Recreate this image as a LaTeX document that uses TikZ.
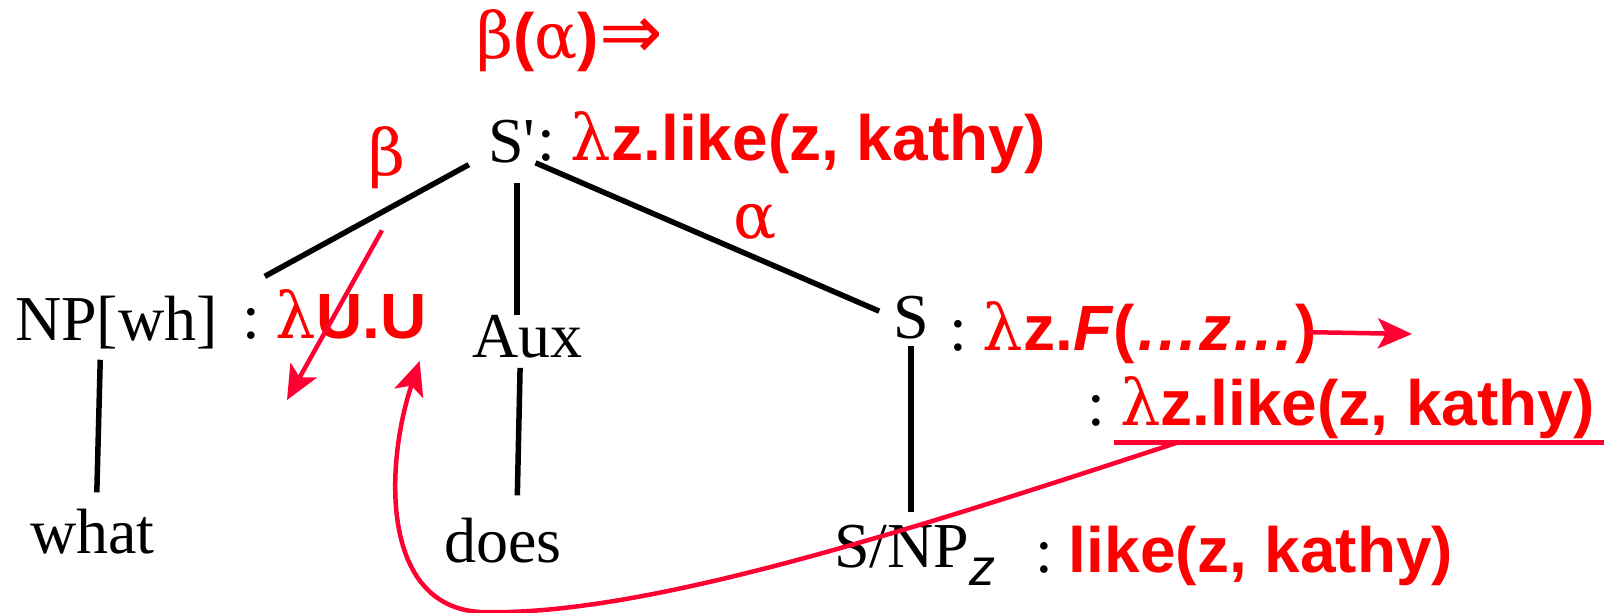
\documentclass[tikz,border=0pt]{standalone}
\usepackage{fontspec}
\setmainfont{Liberation Serif}
\newfontfamily\semf{Liberation Sans}
\newfontfamily\grkf{DejaVu Serif}
\newfontfamily\arrf{DejaVu Sans}
\newfontfamily\quotef{Liberation Serif}[Ligatures=TeXOff]
\usetikzlibrary{calc,arrows.meta}
\definecolor{semred}{HTML}{FF0000}
\definecolor{arrc}{HTML}{FF0033}
\newcommand\gk[1]{{\grkf\mdseries\upshape #1}}
\newcommand\blk[1]{{\normalfont\color{black}#1}}
\tikzset{
  cat/.style={inner sep=0pt,anchor=base west,font=\fontsize{64}{72}\selectfont},
  sem/.style={inner sep=0pt,anchor=base west,text=semred,font=\fontsize{64}{72}\selectfont\semf\bfseries},
  edge/.style={line width=5.5pt,black},
  redar/.style={line width=4.5pt,arrc,-{Stealth[length=34pt,width=30pt,inset=8pt]}},
  uline/.style={line width=5pt,arrc}
}

\begin{document}
\begin{tikzpicture}[x=1pt,y=-1pt]
\useasboundingbox (0,0) rectangle (1604,613);
% categories
\node[cat] (sp) at (488,162) {S{\quotef'}};
\node[cat] (np) at (15,340) {NP[wh]};
\node[cat] (aux) at (472,357) {Aux};
\node[cat] (s) at (893,338) {S};
\node[cat] (what) at (30,553) {what};
\node[cat] (does) at (444,562) {does};
\node[cat] (snp) at (834,567) {S/NP\raisebox{-18pt}{\fontsize{52}{56}\selectfont\semf\itshape z}};
\node[cat] (lcol) at (1087,425) {:};
% semantics
\node[sem] (app) at (476,58) {\gk{β}(\gk{α}){\arrf\mdseries\fontsize{76}{80}\selectfont ⇒}};
\node[sem] (beta) at (368,175) {\gk{β}};
\node[sem] (alpha) at (733,238) {\gk{α}};
\node[sem] (spsem) at (537,160) {\blk{:\ }\gk{λ}z.like(z, kathy)};
\node[sem] (npsem) at (242,338) {\blk{:\ }\gk{λ}U.U};
\node[sem] (ssem) at (949,350) {\blk{:\ }\gk{λ}z.\textit{F}(\textit{…z…})};
\node[sem] (lsem) at (1120,425) {\gk{λ}z.like(z, kathy)};
\node[sem] (snpsem) at (1035,572) {\blk{:\ }like(z, kathy)};
% tree
\draw[edge,shorten <=49pt,shorten >=26pt] (sp.center) -- (npsem.north west);
\draw[edge,shorten <=20pt] ([xshift=5pt]sp.south) -- ([xshift=5pt]sp.south |- aux.north);
\draw[edge,shorten >=15pt] (sp.south east) -- (s.west);
\draw[edge,shorten <=11pt,shorten >=16pt] ([xshift=-16pt]np.south) -- ([xshift=4pt]what.north);
\draw[edge,shorten <=10pt,shorten >=22pt] ([xshift=-7pt]aux.south) -- ([xshift=14pt]does.north);
\draw[edge,shorten <=7pt,shorten >=12pt] (s.south) -- (s.south |- snp.north);
% red arrows
\coordinate (bTip) at (287,400);
\coordinate (fTip) at (1412,334);
\coordinate (cLow) at (480,612);
\draw[redar,shorten <=48pt] (beta.south east) -- (bTip);
\draw[redar] ([xshift=-8pt]ssem.east) -- (fTip);
\draw[uline] ([xshift=-6pt,yshift=-4pt]lsem.south west) coordinate (ulA) -- ([xshift=9pt,yshift=-4pt]lsem.south east) coordinate (ulB);
\draw[redar,shorten >=23pt] ($(ulA)!0.13!(ulB)$) .. controls +(-277,91) and +(160,5) .. (cLow) .. controls +(-100,-6) and +(-42,125) .. (npsem.south east);
\end{tikzpicture}
\end{document}
